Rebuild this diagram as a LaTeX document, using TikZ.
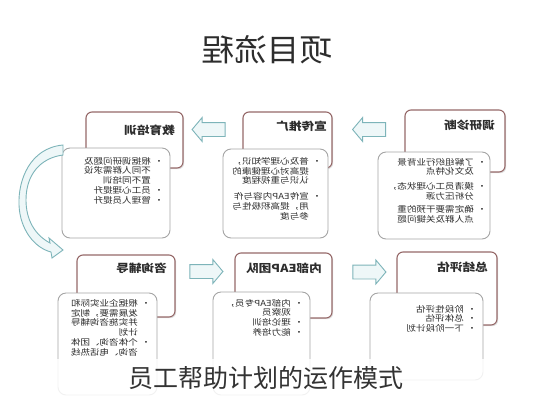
\documentclass[tikz,border=0pt]{standalone}
\usepackage{fontspec}
\setmainfont{Noto Sans CJK SC}
\usepackage{graphicx}
\usetikzlibrary{shapes.arrows,shadows}
\definecolor{hdrline}{RGB}{150,105,105}
\definecolor{boxline}{RGB}{165,165,165}
\definecolor{arrline}{RGB}{125,180,185}
\definecolor{arrfill}{RGB}{238,247,248}
\definecolor{txt}{RGB}{45,45,45}
\newcommand\mirtext[2][1.15]{\scalebox{-#1}[1]{#2}}
\begin{document}
\begin{tikzpicture}[x=1pt,y=-1pt,
    hdr/.style={draw=hdrline,line width=1.1pt,fill=white,rounded corners=6pt,
        drop shadow={shadow xshift=1.2pt,shadow yshift=-1.2pt,opacity=0.25}},
    body/.style={draw=boxline,line width=0.9pt,fill=white,rounded corners=8pt},
    hdrtext/.style={font=\fontsize{11}{12}\selectfont\bfseries,text=txt,inner sep=0pt},
    bodytext/.style={font=\fontsize{8.3}{9.2}\selectfont,text=txt,inner sep=0pt},
    blk/.style={single arrow,draw=arrline,fill=arrfill,line width=0.9pt,inner sep=0pt,
        text height=13pt,text depth=0pt,minimum height=33pt,
        single arrow head extend=5pt,single arrow tip angle=100}]
    \useasboundingbox (0,0) rectangle (533,400);
    \fill[white] (0,0) rectangle (533,400);

    \node[text=txt,font=\fontsize{31}{31}\selectfont] at (267,50) (title) {\mirtext[1.05]{项目流程}};

    \node[hdr,minimum width=97pt,minimum height=56pt] at (134.5,140) (h1) {};
    \node[hdr,minimum width=89pt,minimum height=56pt] at (287.5,140) (h2) {};
    \node[hdr,minimum width=100pt,minimum height=62pt] at (455,141) (h3) {};
    \node[hdr,minimum width=98pt,minimum height=62pt] at (126,286) (h4) {};
    \node[hdr,minimum width=97pt,minimum height=65pt] at (283.5,285.5) (h5) {};
    \node[hdr,minimum width=100pt,minimum height=73pt] at (447,288.5) (h6) {};

    \node[hdrtext,anchor=east] at (175,130) (t1) {\mirtext{教育培训}};
    \node[hdrtext,anchor=east] at (327,126) (t2) {\mirtext{宣传推广}};
    \node[hdrtext,anchor=east] at (495,125) (t3) {\mirtext{调研诊断}};
    \node[hdrtext,anchor=east] at (167,268) (t4) {\mirtext{咨询辅导}};
    \node[hdrtext,anchor=east] at (322,268) (t5) {\mirtext{内部EAP团队}};
    \node[hdrtext,anchor=east] at (488,267) (t6) {\mirtext{总结评估}};

    \node[body,minimum width=108pt,minimum height=90pt] at (116,193) (b1) {};
    \node[body,minimum width=105pt,minimum height=89pt] at (275.5,193.5) (b2) {};
    \node[body,minimum width=112pt,minimum height=87pt] at (434,195.5) (b3) {};
    \node[body,minimum width=99pt,minimum height=102pt] at (107.5,344) (b4) {};
    \node[body,minimum width=97pt,minimum height=103pt] at (261.5,343.5) (b5) {};
    \node[body,minimum width=113pt,minimum height=87pt] at (426.5,336.5) (b6) {};

    \node[bodytext,anchor=north east] at (164,157) (c1) {\mirtext{\begin{tabular}{@{}l@{\hspace{3pt}}l@{}}
        • & 根据调研问题及\\ & 不同人群需求设\\ & 置不同培训\\
        • & 员工心理提升\\ • & 管理人员提升\end{tabular}}};
    \node[bodytext,anchor=north east] at (322,157) (c2) {\mirtext{\begin{tabular}{@{}l@{\hspace{3pt}}l@{}}
        • & 普及心理学知识，\\ & 提高对心理健康的\\ & 认识与重视程度\\[6pt]
        • & 宣传EAP内容与作\\ & 用，提高积极性与\\ & 参与度\end{tabular}}};
    \node[bodytext,anchor=north east] at (487,158) (c3) {\mirtext{\begin{tabular}{@{}l@{\hspace{3pt}}l@{}}
        • & 了解组织行业背景\\ & 及文化特点\\[5pt]
        • & 摸清员工心理状态，\\ & 分析压力源\\[3pt]
        • & 确定需要干预的重\\ & 点人群及关键问题\end{tabular}}};
    \node[bodytext,anchor=north east] at (151,299) (c4) {\mirtext{\begin{tabular}{@{}l@{\hspace{3pt}}l@{}}
        • & 根据企业实际和\\ & 发展需要，制定\\ & 并实施咨询辅导\\ & 计划\\
        • & 个体咨询、团体\\ & 咨询、电话热线\end{tabular}}};
    \node[bodytext,anchor=north east] at (304,299) (c5) {\mirtext{\begin{tabular}{@{}l@{\hspace{3pt}}l@{}}
        • & 内部EAP专员，\\ & 观察员\\
        • & 理论培训\\ • & 能力培养\end{tabular}}};
    \node[bodytext,anchor=north east] at (477,305) (c6) {\mirtext{\begin{tabular}{@{}l@{\hspace{3pt}}l@{}}
        • & 阶段性评估\\ • & 总体评估\\ • & 下一阶段计划\end{tabular}}};

    \node[blk,shape border rotate=180] at (211.5,129.5) (a1) {};
    \node[blk,shape border rotate=180] at (372,129.5) (a2) {};
    \node[blk] at (203.5,271.5) (a3) {};
    \node[blk] at (366.5,272) (a4) {};

    \draw[arrline,fill=arrfill,line width=0.9pt]
        (63,145) .. controls (30,148) and (18,180) .. (19,205)
        .. controls (20,230) and (35,248) .. (51,252)
        -- (52,258) -- (63,250) -- (49,238) -- (50,243)
        .. controls (35,235) and (26,220) .. (26,200)
        .. controls (26,175) and (40,158) .. (63,155) -- cycle;

    \fill[white,opacity=0.85] (0,359) rectangle (533,400);
    \node[text=black!80,font=\fontsize{25}{26}\selectfont] at (266,378) (caption) {员工帮助计划的运作模式};
\end{tikzpicture}
\end{document}
